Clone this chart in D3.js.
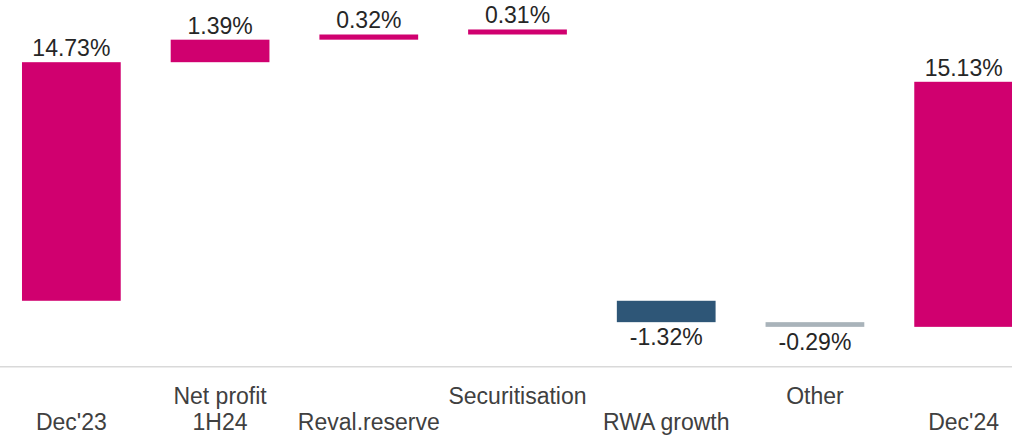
<!DOCTYPE html>
<html>
<head>
<meta charset="utf-8">
<script src="https://cdn.jsdelivr.net/npm/d3@7"></script>
<style>
  html, body { margin: 0; padding: 0; background: #fff; }
  svg { display: block; }
  text { font-family: "Liberation Sans", Arial, sans-serif; }
</style>
</head>
<body>
<div id="viz"></div>
<script>
// waterfall data: totals, increases, decreases
var categories = ["Dec'23", "Net profit|1H24", "Reval.reserve", "Securitisation", "RWA growth", "Other", "Dec'24"];
var values = [14.73, 1.39, 0.32, 0.31, -1.32, -0.29, 15.13];
var kinds = ["total", "up", "up", "up", "down", "down", "total"];
var valueLabels = ["14.73%", "1.39%", "0.32%", "0.31%", "-1.32%", "-0.29%", "15.13%"];
// hidden offset below the first total bar (axis is truncated)
var startOffset = 4.07;

var width = 1012, height = 435;
var axisY = 366.7;

var svg = d3.select("#viz").append("svg")
  .attr("width", width)
  .attr("height", height);

var x = d3.scaleBand()
  .domain(categories)
  .range([-3, 1038])
  .paddingInner(0.336)
  .paddingOuter(0.168);

var y = d3.scaleLinear()
  .domain([0, 22.64])
  .range([axisY, 0]);

// build bar extents: positives stack on the top, negatives eat into the bottom
var bars = [];
var runTop = 0, runBottom = 0;
for (var i = 0; i < values.length; i++) {
  var v = values[i], b = {};
  b.cat = categories[i];
  b.kind = kinds[i];
  b.label = valueLabels[i];
  if (i == 0) {
    runBottom = startOffset;
    runTop = startOffset + v;
    b.lo = runBottom; b.hi = runTop;
  } else if (kinds[i] == "total") {
    b.lo = runBottom; b.hi = runBottom + v;
  } else if (v >= 0) {
    b.lo = runTop; b.hi = runTop + v;
    runTop = runTop + v;
  } else {
    b.hi = runBottom; b.lo = runBottom + v;
    runBottom = runBottom + v;
  }
  bars.push(b);
}

var colors = { total: "#d0006f", up: "#d0006f", down: "#2e5677" };

svg.append("line")
  .attr("x1", 0).attr("x2", width)
  .attr("y1", axisY).attr("y2", axisY)
  .style("stroke", "#d9d9d9")
  .style("stroke-width", 1.5);

svg.selectAll("rect.bar")
  .data(bars)
  .enter().append("rect")
  .attr("class", "bar")
  .attr("x", function (d) { return x(d.cat); })
  .attr("width", x.bandwidth())
  .attr("y", function (d) { return y(d.hi); })
  .attr("height", function (d) { return y(d.lo) - y(d.hi); })
  .style("fill", function (d) {
    if (d.cat == "Other") return "#a9b3ba";
    return colors[d.kind];
  });

svg.selectAll("text.val")
  .data(bars)
  .enter().append("text")
  .attr("class", "val")
  .attr("x", function (d) { return x(d.cat) + x.bandwidth() / 2; })
  .attr("y", function (d) {
    if (d.kind == "down") return y(d.lo) + 23;
    return y(d.hi) - 6;
  })
  .attr("text-anchor", "middle")
  .style("font-size", "23px")
  .style("fill", "#262626")
  .text(function (d) { return d.label; });

// category labels alternate between two rows
var rowY = [430, 404];
svg.selectAll("text.cat")
  .data(categories)
  .enter().append("text")
  .attr("class", "cat")
  .attr("text-anchor", "middle")
  .style("font-size", "23px")
  .style("fill", "#404040")
  .each(function (c, i) {
    var lines = c.split("|");
    var el = d3.select(this);
    var cx = x(c) + x.bandwidth() / 2;
    var y0 = lines.length > 1 ? rowY[1] : rowY[i % 2];
    lines.forEach(function (t, j) {
      el.append("tspan")
        .attr("x", cx)
        .attr("y", y0 + j * 26)
        .text(t);
    });
  });
</script>
</body>
</html>
